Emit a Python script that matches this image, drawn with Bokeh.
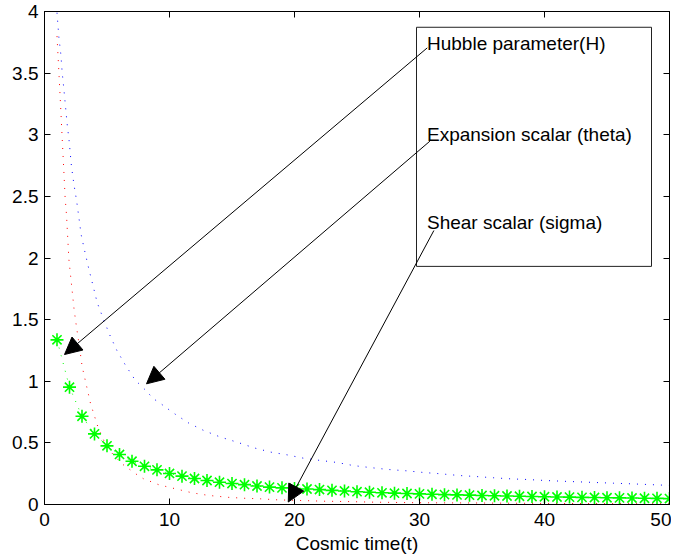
from bokeh.plotting import figure
from bokeh.models import (Range1d, FixedTicker, LinearAxis, Label, Arrow, NormalHead,
                          BoxAnnotation)
from bokeh.embed import file_html
from bokeh.resources import INLINE

# ---------------- data ----------------
# Hubble parameter H (red dotted)
t_H = [1.0, 1.17, 1.31, 1.41, 1.55, 1.65, 1.76, 1.95, 2.37, 2.56, 2.77, 3.01, 3.68, 4.27,
       5.0, 6.2, 7.28, 7.9, 9.15, 10.5, 11.8, 13.1, 14.6, 15.9, 17.3, 18.6, 20.7, 22.2,
       24.2, 26.3, 28.5, 30.0, 35.0, 40.0, 45.0, 50.0]
H = [3.8, 3.47, 3.19, 2.98, 2.70, 2.49, 2.35, 1.99, 1.58, 1.44, 1.30, 1.12, 0.82, 0.63,
     0.46, 0.33, 0.25, 0.21, 0.16, 0.127, 0.095, 0.074, 0.059, 0.051, 0.046, 0.038, 0.032,
     0.027, 0.024, 0.019, 0.016, 0.014, 0.012, 0.009, 0.007, 0.006]

# Expansion scalar theta (blue dotted)
t_theta = [1.0, 1.15, 1.31, 1.41, 1.55, 1.68, 1.81, 1.97, 2.16, 2.35, 2.56, 2.75, 2.93,
           3.23, 3.55, 3.87, 4.21, 4.69, 5.2, 5.79, 6.48, 7.25, 8.16, 8.69, 9.28, 10.35,
           11.55, 12.75, 14.1, 15.4, 16.75, 18.1, 19.4, 20.7, 22.1, 23.4, 24.7, 26.2, 27.5,
           29.0, 30.3, 31.7, 33.2, 34.5, 35.9, 37.3, 38.6, 40.0, 41.4, 42.7, 44.2, 45.5,
           46.9, 48.3, 50.0]
theta = [3.99, 3.79, 3.65, 3.51, 3.37, 3.23, 3.09, 2.95, 2.74, 2.60, 2.47, 2.33, 2.19,
         2.05, 1.91, 1.78, 1.64, 1.51, 1.38, 1.25, 1.13, 1.01, 0.92, 0.86, 0.82, 0.74,
         0.66, 0.60, 0.546, 0.506, 0.46, 0.425, 0.403, 0.376, 0.357, 0.341, 0.316, 0.298,
         0.284, 0.273, 0.26, 0.249, 0.235, 0.227, 0.217, 0.208, 0.203, 0.195, 0.189,
         0.184, 0.178, 0.173, 0.168, 0.162, 0.155]

# Shear scalar sigma (green asterisks, t = 1..50)
t_sigma = list(range(1, 51))
sigma = [1.336, 0.952, 0.716, 0.573, 0.476, 0.406, 0.351, 0.310, 0.281, 0.252,
         0.230, 0.211, 0.195, 0.181, 0.170, 0.161, 0.150, 0.141, 0.135, 0.130,
         0.126, 0.121, 0.115, 0.110, 0.104, 0.100, 0.095, 0.092, 0.089, 0.086,
         0.083, 0.080, 0.078, 0.076, 0.073, 0.071, 0.069, 0.067, 0.065, 0.063,
         0.061, 0.060, 0.058, 0.057, 0.055, 0.054, 0.053, 0.051, 0.050, 0.048]

x_ticks = [0, 10, 20, 30, 40, 50]
y_ticks = [0, 0.5, 1, 1.5, 2, 2.5, 3, 3.5, 4]
y_tick_labels = ["0", "0.5", "1", "1.5", "2", "2.5", "3", "3.5", "4"]
x_label = "Cosmic time(t)"

annot_texts = ["Hubble parameter(H)", "Expansion scalar (theta)", "Shear scalar (sigma)"]

# ---------------- annotation geometry (data units) ----------------
text_x = 30.6
text_y = [3.74, 3.004, 2.29]
arrow_start = [(30.62, 3.705), (30.83, 2.948), (31.15, 2.223)]
arrow_end = [(1.6, 1.217), (8.16, 0.979), (19.5, 0.02)]
box_lrtb = (29.76, 48.56, 3.872, 1.932)

FONT = "Liberation Sans"
FS = "19px"

p = figure(frame_width=625, frame_height=493, output_backend="svg",
           toolbar_location=None, x_range=Range1d(0, 50), y_range=Range1d(0, 4),
           min_border_left=44, min_border_right=2, min_border_top=11, min_border_bottom=0)
p.xgrid.visible = False
p.ygrid.visible = False
p.outline_line_color = "black"
p.outline_line_width = 1
p.background_fill_color = "white"

# curves
p.line(t_H, H, line_color="red", line_width=1, line_dash="1 7")
p.line(t_theta, theta, line_color="blue", line_width=1, line_dash="1 7")
p.line(t_sigma, sigma, line_color="#00ff00", line_width=1, line_dash="1 7")
p.scatter(t_sigma, sigma, marker="asterisk", size=13, line_color="#00ff00", line_width=1.6)

# axes
def style_axis(ax, ticks):
    ax.ticker = FixedTicker(ticks=ticks)
    ax.major_tick_in = 6
    ax.major_tick_out = 0
    ax.minor_tick_in = 0
    ax.minor_tick_out = 0
    ax.axis_line_color = "black"
    ax.major_tick_line_color = "black"
    ax.major_label_text_font = FONT
    ax.major_label_text_color = "black"
    ax.major_label_text_font_size = FS

style_axis(p.xaxis[0], x_ticks)
style_axis(p.yaxis[0], y_ticks)
p.xaxis[0].major_label_standoff = 8
p.yaxis[0].major_label_standoff = 6
p.yaxis[0].major_label_overrides = {t: s for t, s in zip(y_ticks, y_tick_labels)}
p.xaxis[0].axis_label = x_label
p.xaxis[0].axis_label_text_font = FONT
p.xaxis[0].axis_label_text_font_size = FS
p.xaxis[0].axis_label_text_font_style = "normal"
p.xaxis[0].axis_label_text_color = "black"
p.xaxis[0].axis_label_standoff = 4

# box-style top and right axes: ticks only, no labels
top_ax = LinearAxis()
right_ax = LinearAxis()
style_axis(top_ax, x_ticks)
style_axis(right_ax, y_ticks)
for ax, ticks in ((top_ax, x_ticks), (right_ax, y_ticks)):
    ax.major_label_overrides = {tk: "" for tk in ticks}
    ax.major_label_standoff = 0
p.add_layout(top_ax, "above")
p.add_layout(right_ax, "right")

# text box
l, r, t, b = box_lrtb
p.add_layout(BoxAnnotation(left=l, right=r, top=t, bottom=b, fill_color="white",
                           fill_alpha=1, line_color="#222222", line_alpha=1, line_width=1))
for txt, ty in zip(annot_texts, text_y):
    p.add_layout(Label(x=text_x, y=ty, text=txt, text_font=FONT, text_font_size=FS,
                       text_color="black", text_baseline="alphabetic", text_align="left"))

for (xs, ys), (xe, ye) in zip(arrow_start, arrow_end):
    p.add_layout(Arrow(x_start=xs, y_start=ys, x_end=xe, y_end=ye, line_color="black",
                       line_width=1,
                       end=NormalHead(size=17, fill_color="black", line_color="black",
                                      line_width=1)))

open("out.html", "w").write(file_html(p, INLINE))
